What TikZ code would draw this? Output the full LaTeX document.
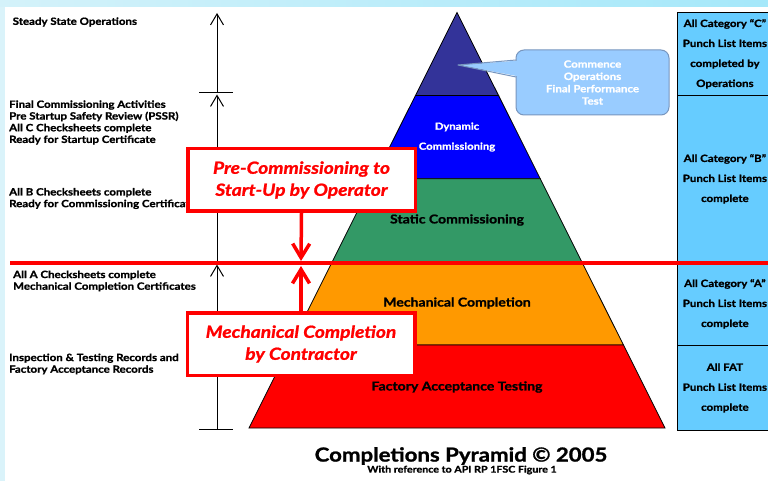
\documentclass[tikz,border=0pt]{standalone}
\usepackage{fontspec}
\setmainfont{Lato}[FakeStretch=1.15, BoldFeatures={FakeBold=1.2}, BoldItalicFeatures={FakeBold=1.2}]
\usetikzlibrary{arrows.meta,calc}
\definecolor{bgtopl}{RGB}{212,242,250}
\definecolor{bgtopr}{RGB}{165,232,250}
\definecolor{bgleft}{RGB}{218,243,250}
\definecolor{layA}{RGB}{51,51,153}
\definecolor{layB}{RGB}{0,0,255}
\definecolor{layC}{RGB}{51,153,102}
\definecolor{layD}{RGB}{255,153,0}
\definecolor{layE}{RGB}{255,0,0}
\definecolor{cellblue}{RGB}{102,204,255}
\definecolor{cofill}{RGB}{153,204,255}
\definecolor{coline}{RGB}{120,150,190}
\definecolor{redline}{RGB}{255,0,0}
\begin{document}
\begin{tikzpicture}[x=1pt,y=-1pt,
  lefttext/.style={anchor=west, align=left, inner sep=0pt,
    font=\bfseries\fontsize{10}{11.7}\selectfont},
  layertext/.style={inner sep=0pt, align=center,
    font=\bfseries\fontsize{12.2}{14}\selectfont},
  cell/.style={draw=black, line width=0.8pt, fill=cellblue, anchor=north west,
    minimum width=95pt, align=center, inner sep=0pt,
    font=\bfseries\fontsize{10}{20}\selectfont},
  layer/.style={draw=black, line width=0.8pt},
  blkarrow/.style={line width=1pt, -{Straight Barb[length=11pt,width=13pt,line width=1pt]}},
  redbox/.style={draw=redline, line width=3.5pt, fill=white, minimum width=227.5pt,
    minimum height=62.5pt, align=center, text=redline,
    font=\bfseries\itshape\fontsize{16.7}{22}\selectfont},
  redarrow/.style={draw=redline, line width=3.5pt,
    -{Straight Barb[length=14pt,width=17pt,line width=3.5pt]}},
  tickline/.style={line width=1pt}
]
\useasboundingbox (0,0) rectangle (768,481);
% background frame
\shade[left color=bgtopl, right color=bgtopr] (0,0) rectangle (768,8);
\fill[bgleft] (0,7) rectangle (5,481);
\fill[white] (5,7) rectangle (768,481);

% right panel
\node[cell, minimum height=83pt] (cellC) at (677,12)
  {All Category “C”\\Punch List Items\\completed by\\Operations};
\node[cell, minimum height=167pt] (cellB) at (677,95)
  {All Category “B”\\Punch List Items\\complete};
\node[cell, minimum height=83pt] (cellA) at (677,262)
  {All Category “A”\\Punch List Items\\complete};
\node[cell, minimum height=85pt] (cellF) at (677,345)
  {All FAT\\Punch List Items\\complete};

% pyramid
\coordinate (apex) at (457,12.5);
\coordinate (bl) at (249,428);
\coordinate (br) at (665,428);
\coordinate (l1) at ($(apex)!0.2!(bl)$);
\coordinate (r1) at ($(apex)!0.2!(br)$);
\coordinate (l2) at ($(apex)!0.4!(bl)$);
\coordinate (r2) at ($(apex)!0.4!(br)$);
\coordinate (l3) at ($(apex)!0.6!(bl)$);
\coordinate (r3) at ($(apex)!0.6!(br)$);
\coordinate (l4) at ($(apex)!0.8!(bl)$);
\coordinate (r4) at ($(apex)!0.8!(br)$);
\filldraw[layer, fill=layA] (apex) -- (r1) -- (l1) -- cycle;
\filldraw[layer, fill=layB] (l1) -- (r1) -- (r2) -- (l2) -- cycle;
\filldraw[layer, fill=layC] (l2) -- (r2) -- (r3) -- (l3) -- cycle;
\filldraw[layer, fill=layD] (l3) -- (r3) -- (r4) -- (l4) -- cycle;
\filldraw[layer, fill=layE] (l4) -- (r4) -- (br) -- (bl) -- cycle;

\node[layertext, text=white, font=\bfseries\fontsize{9.8}{20}\selectfont] (dyn) at (457,137) {Dynamic\\Commissioning};
\node[layertext] (stat) at (457,220) {Static Commissioning};
\node[layertext] (mech) at (457,303) {Mechanical Completion};
\node[layertext] (fat) at (457,387) {Factory Acceptance Testing};

% callout
\node[fill=cofill, draw=coline, line width=1pt, rounded corners=8pt,
  minimum width=153pt, minimum height=65pt, text=white, align=center, inner sep=0pt,
  font=\bfseries\fontsize{10}{12.3}\selectfont] (co) at (592.5,82.5)
  {Commence\\Operations\\Final Performance\\Test};
\coordinate (tip) at (458,65);
\coordinate (ptop) at (516,60);
\coordinate (pbot) at (516,77);
\fill[cofill] (519,60.6) -- (tip) -- (519,76.4) -- cycle;
\draw[coline, line width=1pt, line join=round] (ptop) -- (tip) -- (pbot);

% left texts
\node[lefttext] (t1) at (12.5,22) {Steady State Operations};
\node[lefttext] (t2) at (9,122.5) {Final Commissioning Activities\\Pre Startup Safety Review (PSSR)\\All C Checksheets complete\\Ready for Startup Certificate};
\node[lefttext] (t3) at (9,198.5) {All B Checksheets complete\\Ready for Commissioning Certificate};
\node[lefttext] (t4) at (13,281) {All A Checksheets complete\\Mechanical Completion Certificates};
\node[lefttext] (t5) at (9,364) {Inspection \& Testing Records and\\Factory Acceptance Records};

% vertical scale
\coordinate (vtop) at (217,13);
\coordinate (vtick) at (217,93);
\coordinate (vtickb) at (217,94.5);
\coordinate (vred) at (217,263);
\coordinate (vredb) at (217,264.5);
\coordinate (vbot) at (217,429);
\coordinate (tk1l) at (199,93);
\coordinate (tk1r) at (233,93);
\coordinate (tk2l) at (199,429);
\coordinate (tk2r) at (233,429);
\draw[blkarrow] (vtick) -- (vtop);
\draw[blkarrow] (vred) -- (vtickb);
\draw[blkarrow] (vbot) -- (vredb);
\draw[tickline] (tk1l) -- (tk1r);
\draw[tickline] (tk2l) -- (tk2r);

% red line
\coordinate (rll) at (10,263);
\coordinate (rlr) at (770,263);
\draw[redline, line width=3.5pt] (rll) -- (rlr);

% red boxes
\node[redbox] (box1) at (301.5,180) {Pre-Commissioning to\\Start-Up by Operator};
\node[redbox] (box2) at (301,344) {Mechanical Completion\\by Contractor};
\coordinate (rtip1) at (301,261);
\coordinate (rtip2) at (301,266);
\draw[redarrow] (box1.south) -- (rtip1);
\draw[redarrow] (box2.north) -- (rtip2);

% title
\node[inner sep=0pt, font=\bfseries\fontsize{19.3}{22}\selectfont] (title) at (461,456) {Completions Pyramid © 2005};
\node[inner sep=0pt, font=\bfseries\fontsize{9.3}{11}\selectfont] (sub) at (462,470) {With reference to API RP 1FSC Figure 1};
\end{tikzpicture}
\end{document}
